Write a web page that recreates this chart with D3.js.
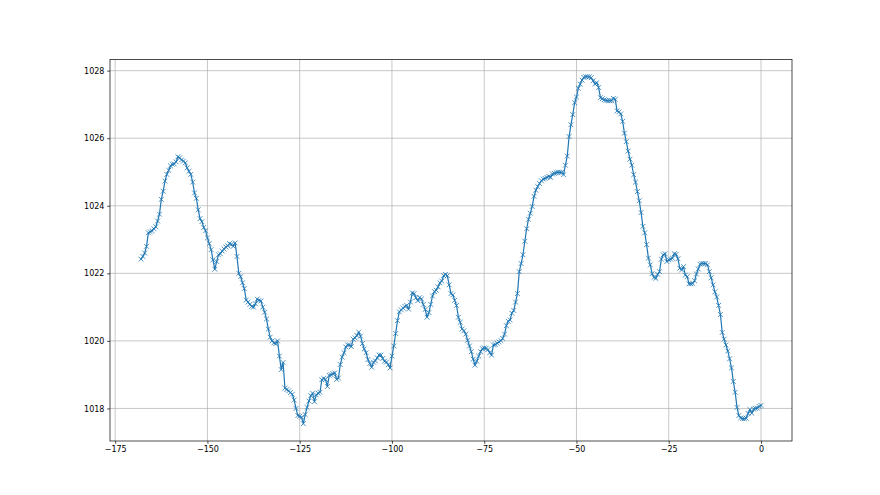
<!DOCTYPE html>
<html>
<head>
<meta charset="utf-8">
<script src="https://cdn.jsdelivr.net/npm/d3@7"></script>
<style>
  html, body { margin: 0; padding: 0; background: #fff; }
  svg { display: block; }
  text { font-family: "DejaVu Sans", sans-serif; }
</style>
</head>
<body>
<svg id="chart" width="880" height="495"></svg>
<script>
// Data: one reading every 0.5 hour, from -168 to 0
const startHour = -168;
const stepHour = 0.5;
const pressure = [
  1022.42,1022.50,1022.60,1022.80,1023.20,1023.23,1023.26,1023.32,1023.38,1023.55,
  1023.75,1024.19,1024.43,1024.73,1024.93,1025.05,1025.18,1025.23,1025.24,1025.30,
  1025.45,1025.42,1025.36,1025.32,1025.27,1025.12,1025.02,1024.93,1024.70,1024.38,
  1024.22,1023.88,1023.62,1023.53,1023.36,1023.26,1023.05,1022.88,1022.70,1022.40,
  1022.12,1022.35,1022.55,1022.58,1022.66,1022.72,1022.78,1022.82,1022.88,1022.86,
  1022.80,1022.90,1022.50,1022.00,1021.90,1021.72,1021.55,1021.21,1021.15,1021.08,
  1021.02,1021.00,1021.10,1021.24,1021.20,1021.18,1021.00,1020.85,1020.65,1020.35,
  1020.11,1020.00,1019.94,1019.92,1020.00,1019.55,1019.15,1019.36,1018.60,1018.56,
  1018.52,1018.47,1018.42,1018.25,1018.00,1017.79,1017.77,1017.74,1017.55,1017.82,
  1018.03,1018.22,1018.38,1018.45,1018.20,1018.40,1018.45,1018.48,1018.85,1018.89,
  1018.86,1018.65,1018.98,1019.00,1019.03,1019.05,1018.86,1018.90,1019.30,1019.52,
  1019.65,1019.82,1019.88,1019.88,1019.83,1020.05,1020.09,1020.16,1020.26,1020.14,
  1019.92,1019.76,1019.65,1019.45,1019.33,1019.22,1019.37,1019.41,1019.50,1019.58,
  1019.58,1019.48,1019.40,1019.37,1019.30,1019.20,1019.55,1019.85,1020.22,1020.60,
  1020.86,1020.92,1020.97,1021.02,1021.05,1020.94,1021.15,1021.42,1021.40,1021.28,
  1021.19,1021.28,1021.24,1021.08,1020.93,1020.70,1020.84,1021.08,1021.33,1021.46,
  1021.50,1021.60,1021.72,1021.77,1021.93,1021.97,1021.93,1021.66,1021.40,1021.36,
  1021.20,1021.05,1020.70,1020.55,1020.35,1020.30,1020.20,1020.02,1019.85,1019.68,
  1019.46,1019.28,1019.40,1019.55,1019.68,1019.77,1019.79,1019.78,1019.74,1019.65,
  1019.58,1019.88,1019.89,1019.93,1019.97,1020.01,1020.07,1020.20,1020.45,1020.58,
  1020.62,1020.82,1020.90,1021.15,1021.40,1022.05,1022.29,1022.55,1022.95,1023.32,
  1023.60,1023.78,1023.98,1024.28,1024.46,1024.57,1024.66,1024.74,1024.79,1024.81,
  1024.84,1024.87,1024.84,1024.94,1024.96,1024.98,1024.99,1024.99,1024.99,1024.92,
  1025.20,1025.47,1026.05,1026.40,1026.70,1027.05,1027.22,1027.48,1027.60,1027.72,
  1027.80,1027.82,1027.82,1027.82,1027.79,1027.70,1027.61,1027.64,1027.50,1027.20,
  1027.17,1027.14,1027.12,1027.11,1027.11,1027.11,1027.18,1027.15,1026.81,1026.78,
  1026.72,1026.50,1026.15,1025.90,1025.62,1025.38,1025.20,1024.92,1024.70,1024.42,
  1024.15,1023.80,1023.39,1023.20,1022.85,1022.45,1022.25,1021.99,1021.88,1021.85,
  1021.97,1022.05,1022.42,1022.55,1022.58,1022.35,1022.40,1022.42,1022.45,1022.58,
  1022.56,1022.43,1022.15,1022.10,1022.20,1021.95,1021.90,1021.69,1021.69,1021.70,
  1021.78,1021.98,1022.13,1022.27,1022.29,1022.29,1022.29,1022.25,1022.05,1021.87,
  1021.66,1021.45,1021.30,1021.05,1020.78,1020.25,1020.05,1019.88,1019.70,1019.47,
  1019.20,1018.80,1018.48,1018.03,1017.79,1017.72,1017.70,1017.70,1017.71,1017.85,
  1017.97,1017.86,1017.98,1018.00,1018.01,1018.06,1018.09
];
const xTicks = [-175, -150, -125, -100, -75, -50, -25, 0];
const yTicks = [1018, 1020, 1022, 1024, 1026, 1028];

const hours = pressure.map((_, i) => startHour + i * stepHour);
const data = hours.map((h, i) => ({ x: h, y: pressure[i] }));

const W = 880, H = 495;
const m = { left: 110, right: 88, top: 59.4, bottom: 54 };
const iw = W - m.left - m.right, ih = H - m.top - m.bottom;

const xMin = d3.min(hours), xMax = d3.max(hours);
const yMin = d3.min(pressure), yMax = d3.max(pressure);
const xPad = (xMax - xMin) * 0.05, yPad = (yMax - yMin) * 0.05;

const x = d3.scaleLinear().domain([xMin - xPad, xMax + xPad]).range([0, iw]);
const y = d3.scaleLinear().domain([yMin - yPad, yMax + yPad]).range([ih, 0]);

const svg = d3.select("#chart");
const g = svg.append("g").attr("transform", `translate(${m.left},${m.top})`);

const fmt = d => String(d).replace("-", "\u2212");

// grid
g.append("g").selectAll("line").data(xTicks).join("line")
  .attr("x1", d => x(d)).attr("x2", d => x(d)).attr("y1", 0).attr("y2", ih)
  .attr("stroke", "#b0b0b0").attr("stroke-width", 0.7);
g.append("g").selectAll("line").data(yTicks).join("line")
  .attr("y1", d => y(d)).attr("y2", d => y(d)).attr("x1", 0).attr("x2", iw)
  .attr("stroke", "#b0b0b0").attr("stroke-width", 0.7);

// axes
const xAxis = d3.axisBottom(x).tickValues(xTicks).tickFormat(fmt).tickSize(2.8).tickPadding(2.8);
const yAxis = d3.axisLeft(y).tickValues(yTicks).tickFormat(fmt).tickSize(2.8).tickPadding(2.8);
const gx = g.append("g").attr("transform", `translate(0,${ih})`).call(xAxis);
const gy = g.append("g").call(yAxis);
[gx, gy].forEach(a => {
  a.select(".domain").remove();
  a.selectAll(".tick line").attr("stroke", "#000").attr("stroke-width", 0.7);
  a.selectAll(".tick text").attr("fill", "#000").style("font-size", "8px")
    .style("font-family", "'DejaVu Sans', sans-serif");
});

// line
const line = d3.line().x(d => x(d.x)).y(d => y(d.y));
g.append("path").datum(data).attr("d", line)
  .attr("fill", "none").attr("stroke", "#1f77b4").attr("stroke-width", 1.2)
  .attr("stroke-linejoin", "round").attr("stroke-linecap", "square");

// x markers
const s = 2.4;
g.append("g").selectAll("path").data(data).join("path")
  .attr("transform", d => `translate(${x(d.x)},${y(d.y)})`)
  .attr("d", `M${-s},${-s}L${s},${s}M${-s},${s}L${s},${-s}`)
  .attr("stroke", "#1f77b4").attr("stroke-width", 0.8).attr("fill", "none");

// spines
g.append("rect").attr("x", 0).attr("y", 0).attr("width", iw).attr("height", ih)
  .attr("fill", "none").attr("stroke", "#000").attr("stroke-width", 0.7);
</script>
</body>
</html>
